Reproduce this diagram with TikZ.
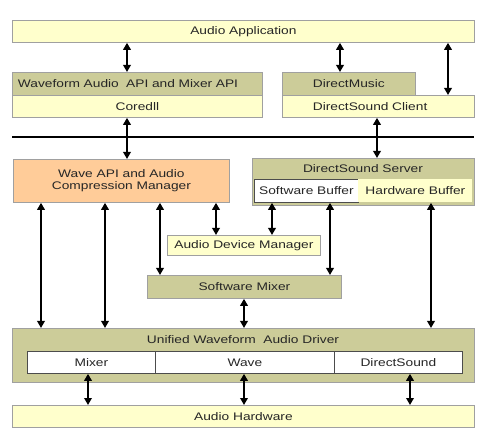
\documentclass[tikz,border=0pt]{standalone}
\usepackage{fontspec}
\setmainfont{Liberation Sans}[FakeStretch=1.25]
\usetikzlibrary{arrows.meta,positioning}
\definecolor{ylw}{HTML}{FFFFCC}
\definecolor{olv}{HTML}{CCCC99}
\definecolor{org}{HTML}{FFCC99}
\definecolor{brd}{HTML}{A0A0A0}
\tikzset{
  bx/.style={draw=brd, line width=0.8pt, anchor=north west, inner sep=0pt, font=\fontsize{11}{12}\selectfont, text=black!85},
  yb/.style={bx, fill=ylw},
  ob/.style={bx, fill=olv},
  wb/.style={bx, fill=white, draw=black!70},
  ttl/.style={font=\fontsize{11}{12}\selectfont, text=black!85},
  arr/.style={line width=1.9pt, {Triangle[length=7pt,width=7.5pt]}-{Triangle[length=7pt,width=7.5pt]}}
}
\begin{document}
\begin{tikzpicture}[x=1pt,y=-1pt]
\useasboundingbox (0,0) rectangle (482,430);
\fill[white] (0,0) rectangle (482,430);
% top
\node[yb, minimum width=462pt, minimum height=22pt] (app) at (12,20) {Audio Application};
\node[ob, minimum width=250pt, minimum height=23pt, align=left, text width=245pt] (wf) at (12,72) {\hspace*{3pt}Waveform Audio\ \ API and Mixer API};
\node[yb, minimum width=250pt, minimum height=22pt] (core) at (12,95) {Coredll};
\node[ob, minimum width=133pt, minimum height=23pt, align=left, text width=112pt] (dm) at (282,72) {\hspace*{20pt}DirectMusic};
\node[yb, minimum width=192pt, minimum height=22pt, align=left, text width=171pt] (dsc) at (282,95) {\hspace*{20pt}DirectSound Client};
% bus line
\coordinate (busL) at (12,137);
\coordinate (busR) at (474,137);
\draw[line width=1.8pt] (busL) -- (busR);
% middle
\node[bx, fill=org, minimum width=216pt, minimum height=43pt, align=center] (wave) at (13,159) {Wave API and Audio\\Compression Manager};
\node[ob, minimum width=222pt, minimum height=47pt] (dss) at (252,158) {};
\node[ttl] (dsst) at (363,168.5) {DirectSound Server};
\node[wb, minimum width=104pt, minimum height=23pt] (swb) at (254,179) {Software Buffer};
\node[yb, draw=none, minimum width=114pt, minimum height=23pt] (hwb) at (358,179) {Hardware Buffer};
\node[yb, minimum width=153pt, minimum height=20pt] (adm) at (167,235) {Audio Device Manager};
\node[ob, minimum width=194pt, minimum height=23pt] (smix) at (147,275) {Software Mixer};
% driver
\node[ob, minimum width=462pt, minimum height=54pt] (uwad) at (12,328) {};
\node[ttl] (uwadt) at (243,339.5) {Unified Waveform\ \ Audio Driver};
\node[wb, minimum width=128pt, minimum height=22pt] (mix) at (27,351) {Mixer};
\node[wb, minimum width=179pt, minimum height=22pt] (wavei) at (155,351) {Wave};
\node[wb, minimum width=128pt, minimum height=22pt] (dsi) at (334,351) {DirectSound};
\node[yb, minimum width=462pt, minimum height=22pt] (hw) at (12,405) {Audio Hardware};
% arrows
\draw[arr] (127,0 |- app.south) -- (127,0 |- wf.north);
\draw[arr] (340,0 |- app.south) -- (340,0 |- dm.north);
\draw[arr] (448,0 |- app.south) -- (448,0 |- dsc.north);
\draw[arr] (127,0 |- core.south) -- (127,0 |- wave.north);
\draw[arr] (377,0 |- dsc.south) -- (377,0 |- dss.north);
\draw[arr] (41,0 |- wave.south) -- (41,0 |- uwad.north);
\draw[arr] (105,0 |- wave.south) -- (105,0 |- uwad.north);
\draw[arr] (160,0 |- wave.south) -- (160,0 |- smix.north);
\draw[arr] (216,0 |- wave.south) -- (216,0 |- adm.north);
\draw[arr] (272,0 |- swb.south) -- (272,0 |- adm.north);
\draw[arr] (330,0 |- swb.south) -- (330,0 |- smix.north);
\draw[arr] (431,0 |- hwb.south) -- (431,0 |- uwad.north);
\draw[arr] (244,0 |- smix.south) -- (244,0 |- uwad.north);
\draw[arr] (88,0 |- mix.south) -- (88,0 |- hw.north);
\draw[arr] (244,0 |- wavei.south) -- (244,0 |- hw.north);
\draw[arr] (410,0 |- dsi.south) -- (410,0 |- hw.north);
\end{tikzpicture}
\end{document}
